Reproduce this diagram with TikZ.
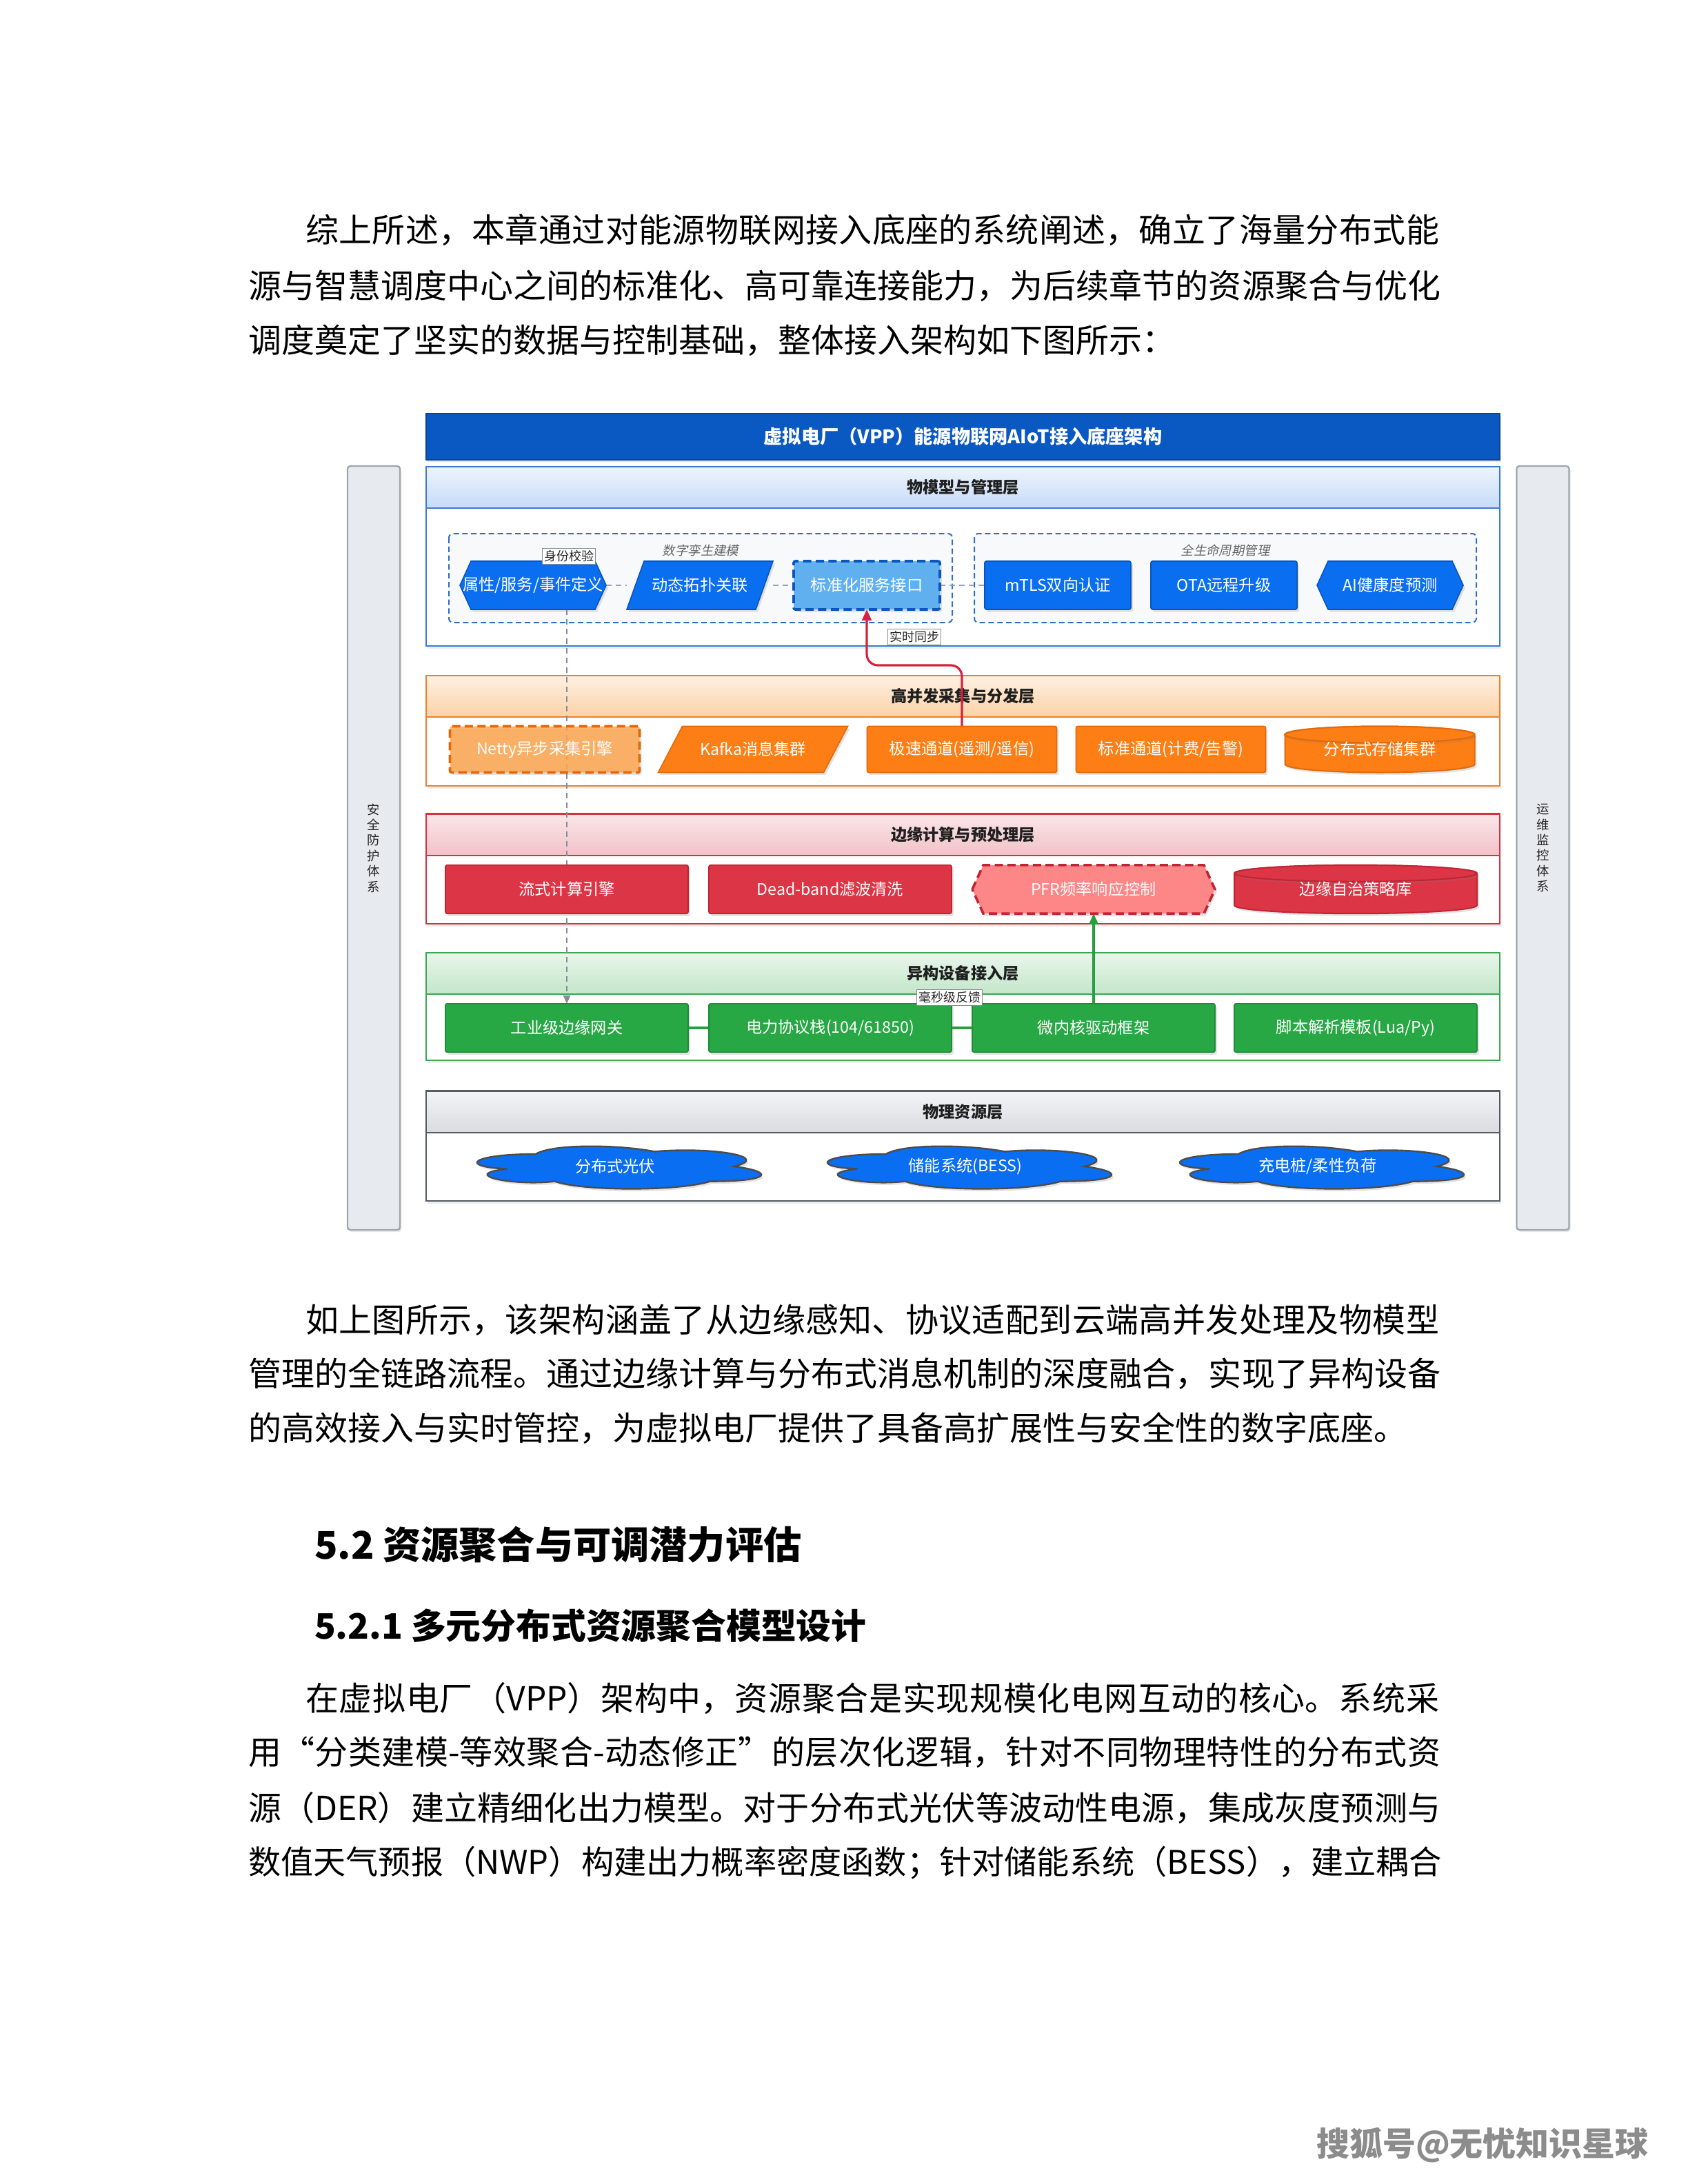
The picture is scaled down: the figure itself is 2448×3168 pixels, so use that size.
\documentclass[tikz,border=0pt]{standalone}
\usepackage{fontspec}
\setmainfont{Noto Sans CJK SC}
\newfontfamily\slantfont{Noto Sans CJK SC}[FakeSlant=0.2]
\usetikzlibrary{shadows,calc,arrows.meta}
\XeTeXlinebreaklocale "zh"
\XeTeXlinebreakskip=0pt plus 4pt
\pgfdeclarelayer{back}
\pgfdeclarelayer{edges}
\pgfdeclarelayer{shapes}
\pgfsetlayers{back,edges,shapes,main}

\definecolor{titleblue}{HTML}{0A58C2}
\definecolor{titleblueD}{HTML}{0A4598}
\definecolor{nodeblue}{HTML}{0A6EF0}
\definecolor{nodeblueD}{HTML}{0A55BE}
\definecolor{lightblue}{HTML}{4BA9F4}
\definecolor{orangeN}{HTML}{FD7E14}
\definecolor{orangeD}{HTML}{E2680A}
\definecolor{orangeL}{HTML}{FDA650}
\definecolor{redN}{HTML}{DC3545}
\definecolor{redD}{HTML}{C02433}
\definecolor{redL}{HTML}{FD8686}
\definecolor{greenN}{HTML}{28A745}
\definecolor{greenD}{HTML}{1E8C38}
\definecolor{cloudblue}{HTML}{0A6EF2}
\definecolor{b1}{HTML}{3A7BD5}\definecolor{h1t}{HTML}{EDF4FD}\definecolor{h1b}{HTML}{C6DBF8}
\definecolor{b2}{HTML}{F07F2A}\definecolor{h2t}{HTML}{FFF1E2}\definecolor{h2b}{HTML}{FBD1A6}
\definecolor{b3}{HTML}{D9303E}\definecolor{h3t}{HTML}{FBE6E9}\definecolor{h3b}{HTML}{F1C2C8}
\definecolor{b4}{HTML}{3DA652}\definecolor{h4t}{HTML}{E9F6EB}\definecolor{h4b}{HTML}{C3E6C9}
\definecolor{b5}{HTML}{545B62}\definecolor{h5t}{HTML}{F3F4F6}\definecolor{h5b}{HTML}{D9DCE0}
\definecolor{sidefill}{HTML}{E7EAEE}
\definecolor{sideborder}{HTML}{A0A6AD}
\definecolor{groupfill}{HTML}{F8F9FB}
\definecolor{groupborder}{HTML}{2F6FC4}
\definecolor{linkgray}{HTML}{9AA6B8}
\definecolor{arrowred}{HTML}{D6223C}
\definecolor{arrowgreen}{HTML}{2A9D3F}

\newcommand\hexa[2]{\path[#2] (#1.west) -- ($(#1.north west)+(16,0)$) -- ($(#1.north east)+(-16,0)$) -- (#1.east) -- ($(#1.south east)+(-16,0)$) -- ($(#1.south west)+(16,0)$) -- cycle;}
\newcommand\para[3]{\path[#3] (#1.south west) -- ($(#1.north west)+(#2,0)$) -- (#1.north east) -- ($(#1.south east)+(-#2,0)$) -- cycle;}
\newcommand\cyl[3]{%
  \path[#3] ($(#1.north west)+(0,12)$) -- ($(#1.south west)+(0,-12)$) arc[start angle=180,end angle=360,x radius=#2,y radius=3pt] -- ($(#1.north east)+(0,12)$) arc[start angle=0,end angle=180,x radius=#2,y radius=3pt] -- cycle;
  \path[#3, drop shadow={opacity=0}] ($(#1.north)+(0,12)$) ellipse[x radius=#2, y radius=3pt];}
\newcommand\cloudshape[2]{%
  \begin{scope}[shift={(#1.north west)}, x=115pt, y=-18pt]
  \path[#2] (0.25,0.25) .. controls (0.05,0.25) and (0,0.5) .. (0.16,0.55) .. controls (0,0.66) and (0.18,0.9) .. (0.31,0.8) .. controls (0.4,1) and (0.7,1) .. (0.8,0.8) .. controls (1,0.8) and (1,0.6) .. (0.875,0.5) .. controls (1,0.3) and (0.8,0.1) .. (0.625,0.2) .. controls (0.5,0.05) and (0.3,0.05) .. (0.25,0.25) -- cycle;
  \end{scope}}

\tikzset{
  every node/.style={inner sep=0pt, outer sep=0pt},
  ntext/.style={text=white, font=\fontsize{5.8pt}{7pt}\selectfont},
  shad/.style={drop shadow={shadow xshift=0.7pt, shadow yshift=-0.9pt, opacity=0.22}},
  rectnode/.style n args={2}{rectangle, rounded corners=0.6pt, fill=#1, draw=#2, line width=0.4pt, ntext, shad},
  ghost/.style={rectangle, ntext},
  s1/.style={minimum width=53pt, minimum height=17.5pt},
  s2/.style={minimum width=68.75pt, minimum height=16.75pt},
  s3/.style={minimum width=88pt, minimum height=17.6pt},
  s5/.style={minimum width=115pt, minimum height=18pt},
  hilite/.style={dash pattern=on 3pt off 1.6pt, line width=0.9pt, fill opacity=0.85, text opacity=1},
  titlebar/.style={rectangle, fill=titleblue, draw=titleblueD, line width=0.6pt, minimum width=389.25pt, minimum height=16.75pt, text=white, font=\bfseries\fontsize{6.8pt}{8pt}\selectfont, drop shadow={shadow xshift=0.5pt, shadow yshift=-0.8pt, opacity=0.2}},
  layerbox/.style n args={2}{rectangle, draw=#1, line width=0.5pt, fill=white, minimum width=389.25pt, minimum height=#2, drop shadow={shadow xshift=0.6pt, shadow yshift=-0.9pt, opacity=0.14}},
  headbox/.style n args={3}{rectangle, draw=#1, line width=0.5pt, top color=#2, bottom color=#3, minimum width=389.25pt, minimum height=15pt, font=\bfseries\fontsize{5.8pt}{7pt}\selectfont, text=black!88},
  sidebar/.style={rectangle, rounded corners=1pt, fill=sidefill, draw=sideborder, line width=0.6pt, minimum width=19pt, minimum height=277pt, align=center, font=\fontsize{4.6pt}{5.6pt}\selectfont, text=black!85, drop shadow={shadow xshift=0.6pt, shadow yshift=-0.8pt, opacity=0.18}},
  groupbox/.style={draw=groupborder, dash pattern=on 2pt off 1.2pt, line width=0.5pt, fill=groupfill, rounded corners=1.5pt},
  grouplabel/.style={font=\slantfont\fontsize{4.6pt}{5.5pt}\selectfont, text=black!60},
  elabel/.style={fill=white, draw=black!45, line width=0.3pt, font=\fontsize{4.5pt}{5.5pt}\selectfont, inner sep=0.7pt, text=black!85},
  graylink/.style={draw=linkgray, dash pattern=on 2pt off 1.5pt, line width=0.6pt},
  vlink/.style={draw=linkgray!85!black, dash pattern=on 2pt off 1.5pt, line width=0.5pt, -{Triangle[length=3pt,width=2.6pt]}},
  redarrow/.style={draw=arrowred, line width=0.8pt, rounded corners=4pt, -{Triangle[length=4pt,width=3.4pt]}},
  greenarrow/.style={draw=arrowgreen, line width=0.8pt, -{Triangle[length=4pt,width=3.4pt]}},
  greenlink/.style={draw=arrowgreen, line width=0.9pt},
  bodyline/.style={anchor=west, font=\fontsize{12pt}{14pt}\selectfont, text=black},
  jline/.style={bodyline, text width=#1, align=justify, execute at begin node={\parfillskip=0pt\relax}},
  h2/.style={anchor=west, font=\bfseries\fontsize{13.8pt}{16pt}\selectfont, text=black},
  h3/.style={anchor=west, font=\bfseries\fontsize{12.7pt}{15pt}\selectfont, text=black}
}

\begin{document}
\begin{tikzpicture}[x=0.25pt,y=-0.25pt]
\useasboundingbox (0,0) rectangle (2448,3168);
\begin{pgfonlayer}{back}
\fill[white] (0,0) rectangle (2448,3168);
\end{pgfonlayer}

% ---------- body text ----------
\node[jline=411pt] (p1a) at (443,334) {综上所述，本章通过对能源物联网接入底座的系统阐述，确立了海量分布式能};
\node[jline=432.3pt] (p1b) at (360,415) {源与智慧调度中心之间的标准化、高可靠连接能力，为后续章节的资源聚合与优化};
\node[bodyline] (p1c) at (360,494) {调度奠定了坚实的数据与控制基础，整体接入架构如下图所示：};

\node[jline=411pt] (p2a) at (443,1915) {如上图所示，该架构涵盖了从边缘感知、协议适配到云端高并发处理及物模型};
\node[jline=432.3pt] (p2b) at (360,1993) {管理的全链路流程。通过边缘计算与分布式消息机制的深度融合，实现了异构设备};
\node[bodyline] (p2c) at (360,2072) {的高效接入与实时管控，为虚拟电厂提供了具备高扩展性与安全性的数字底座。};

\node[h2] (sec52) at (456,2240) {5.2 资源聚合与可调潜力评估};
\node[h3] (sec521) at (456,2358) {5.2.1 多元分布式资源聚合模型设计};

\node[jline=411pt] (p3a) at (443,2463) {在虚拟电厂（VPP）架构中，资源聚合是实现规模化电网互动的核心。系统采};
\node[jline=432.3pt] (p3b) at (360,2542) {用“分类建模-等效聚合-动态修正”的层次化逻辑，针对不同物理特性的分布式资};
\node[jline=432.3pt] (p3c) at (360,2622) {源（DER）建立精细化出力模型。对于分布式光伏等波动性电源，集成灰度预测与};
\node[bodyline, font=\fontsize{11.8pt}{14pt}\selectfont] (p3d) at (360,2702) {数值天气预报（NWP）构建出力概率密度函数；针对储能系统（BESS），建立耦合};

\node[anchor=west, font=\bfseries\fontsize{12pt}{14pt}\selectfont, text=black!45] (wm) at (1909,3111) {搜狐号@无忧知识星球};

% ---------- diagram frame ----------
\node[titlebar] (title) at (1396.5,633.5) {虚拟电厂（VPP）能源物联网AIoT接入底座架构};

\begin{pgfonlayer}{back}
  \node[sidebar] (sec) at (542,1230) {安\\全\\防\\护\\体\\系};
  \node[sidebar] (ops) at (2237.5,1230) {运\\维\\监\\控\\体\\系};

  \node[layerbox={b1}{65pt}] (lay1) at (1396.5,807) {};
  \node[layerbox={b2}{40pt}] (lay2) at (1396.5,1060) {};
  \node[layerbox={b3}{40pt}] (lay3) at (1396.5,1260) {};
  \node[layerbox={b4}{39pt}] (lay4) at (1396.5,1460) {};
  \node[layerbox={b5}{40pt}] (lay5) at (1396.5,1662) {};

  \node[headbox={b1}{h1t}{h1b}] (hd1) at (1396.5,707) {物模型与管理层};
  \node[headbox={b2}{h2t}{h2b}] (hd2) at (1396.5,1010) {高并发采集与分发层};
  \node[headbox={b3}{h3t}{h3b}] (hd3) at (1396.5,1210.5) {边缘计算与预处理层};
  \node[headbox={b4}{h4t}{h4b}] (hd4) at (1396.5,1412) {异构设备接入层};
  \node[headbox={b5}{h5t}{h5b}] (hd5) at (1396.5,1612.5) {物理资源层};

  \draw[groupbox] (651,774) rectangle (1381,903);
  \draw[groupbox] (1413,774) rectangle (2141,903);
  \node[grouplabel] (g1) at (1016,798) {数字孪生建模};
  \node[grouplabel] (g2) at (1777,798) {全生命周期管理};
\end{pgfonlayer}

% ---------- layer 1 ----------
\node[ghost, s1] (attr) at (773,849) {属性/服务/事件定义};
\node[ghost, s1] (topo) at (1015,849) {动态拓扑关联};
\node[rectnode={lightblue}{nodeblueD}, s1, hilite] (std) at (1257,849) {标准化服务接口};
\node[rectnode={nodeblue}{nodeblueD}, s1] (mtls) at (1534,849) {mTLS双向认证};
\node[rectnode={nodeblue}{nodeblueD}, s1] (ota) at (1775,849) {OTA远程升级};
\node[ghost, s1] (ai) at (2016,849) {AI健康度预测};

% ---------- layer 2 ----------
\node[rectnode={orangeL}{orangeD}, s2, hilite] (netty) at (790,1087) {Netty异步采集引擎};
\node[ghost, s2] (kafka) at (1092,1087) {Kafka消息集群};
\node[rectnode={orangeN}{orangeD}, s2] (fast) at (1395,1087) {极速通道(遥测/遥信)};
\node[rectnode={orangeN}{orangeD}, s2] (stdch) at (1698,1087) {标准通道(计费/告警)};
\node[ghost, s2] (store) at (2001,1087) {分布式存储集群};

% ---------- layer 3 ----------
\node[rectnode={redN}{redD}, s3] (stream) at (822,1290) {流式计算引擎};
\node[rectnode={redN}{redD}, s3] (dead) at (1204,1290) {Dead-band滤波清洗};
\node[ghost, s3] (pfr) at (1586,1290) {PFR频率响应控制};
\node[ghost, s3] (auto) at (1966,1290) {边缘自治策略库};

% ---------- layer 4 ----------
\node[rectnode={greenN}{greenD}, s3] (gw) at (822,1491) {工业级边缘网关};
\node[rectnode={greenN}{greenD}, s3] (proto) at (1204,1491) {电力协议栈(104/61850)};
\node[rectnode={greenN}{greenD}, s3] (kern) at (1586,1491) {微内核驱动框架};
\node[rectnode={greenN}{greenD}, s3] (script) at (1966,1491) {脚本解析模板(Lua/Py)};

% ---------- layer 5 ----------
\node[ghost, s5] (pv) at (892,1692) {分布式光伏};
\node[ghost, s5] (bess) at (1400,1692) {储能系统(BESS)};
\node[ghost, s5] (ev) at (1911,1692) {充电桩/柔性负荷};

% ---------- custom shapes ----------
\begin{pgfonlayer}{shapes}
  \hexa{attr}{fill=nodeblue, draw=nodeblueD, line width=0.4pt, shad}
  \para{topo}{25}{fill=nodeblue, draw=nodeblueD, line width=0.4pt, shad}
  \hexa{ai}{fill=nodeblue, draw=nodeblueD, line width=0.4pt, shad}
  \para{kafka}{35}{fill=orangeN, draw=orangeD, line width=0.4pt, shad}
  \cyl{store}{34.4pt}{fill=orangeN, draw=orangeD, line width=0.5pt, shad}
  \hexa{pfr}{fill=redL, draw=redD, dash pattern=on 3pt off 1.6pt, line width=0.9pt, shad}
  \cyl{auto}{44pt}{fill=redN, draw=redD, line width=0.5pt, shad}
  \cloudshape{pv}{fill=cloudblue, draw=black!70, line width=0.6pt, shad}
  \cloudshape{bess}{fill=cloudblue, draw=black!70, line width=0.6pt, shad}
  \cloudshape{ev}{fill=cloudblue, draw=black!70, line width=0.6pt, shad}
\end{pgfonlayer}

% ---------- connectors ----------
\coordinate (rbend) at (1257,965);
\begin{pgfonlayer}{edges}
  \draw[graylink] (attr.east) -- (topo.west);
  \draw[graylink] (topo.east) -- (std.west);
  \draw[graylink] (std.east) -- (mtls.west);
  \draw[vlink] (gw.north |- attr.south) -- (gw.north);
  \draw[redarrow] (fast.north) |- (rbend) -- (std.south);
  \draw[greenarrow] (kern.north) -- (pfr.south);
  \draw[greenlink] (gw.east) -- (proto.west);
  \draw[greenlink] (proto.east) -- (kern.west);
\end{pgfonlayer}

\node[elabel] (lab1) at (825,807) {身份校验};
\node[elabel] (lab2) at (1326,924) {实时同步};
\node[elabel] (lab3) at (1377,1447) {毫秒级反馈};
\end{tikzpicture}
\end{document}
